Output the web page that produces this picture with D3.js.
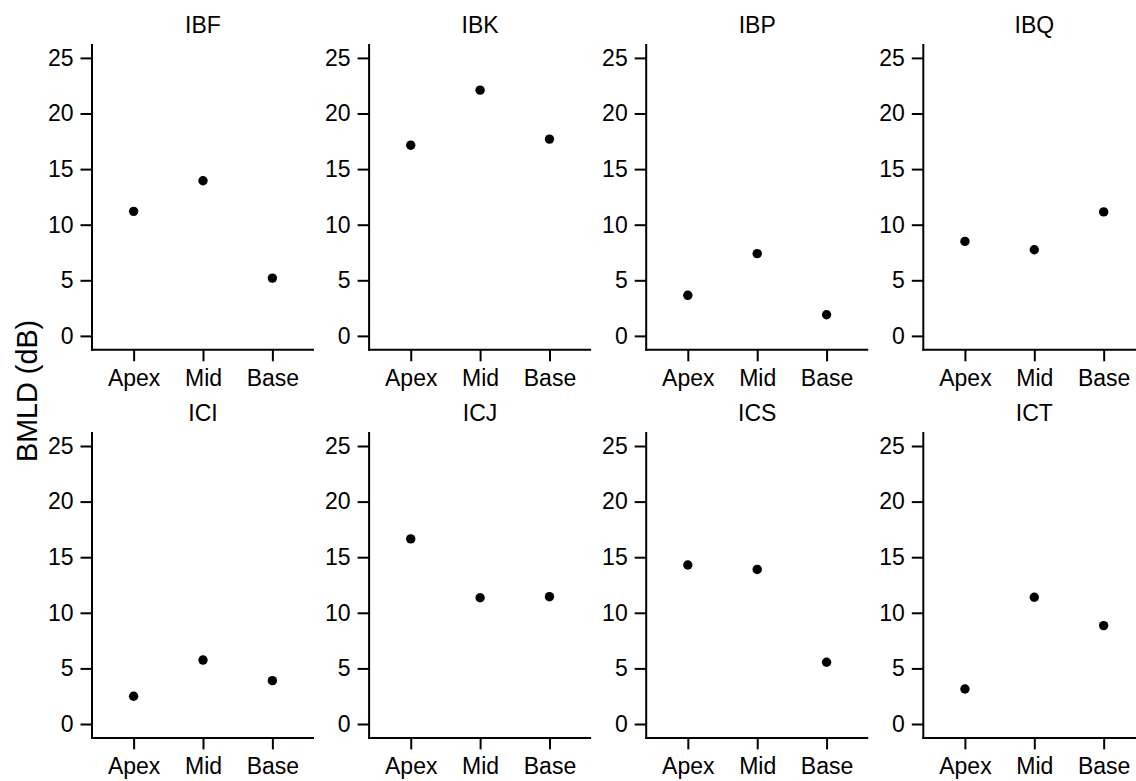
<!DOCTYPE html>
<html>
<head>
<meta charset="utf-8">
<script src="https://cdn.jsdelivr.net/npm/d3@7"></script>
<style>
  html, body { margin: 0; padding: 0; background: #fff; }
  svg { display: block; }
  text { font-family: "Liberation Sans", Arial, sans-serif; fill: #000; }
</style>
</head>
<body>
<svg id="chart" width="1136" height="781"></svg>
<script>
// ---- data ----
const subjects = ["IBF", "IBK", "IBP", "IBQ", "ICI", "ICJ", "ICS", "ICT"];
const regions = ["Apex", "Mid", "Base"];
const yTicks = [0, 5, 10, 15, 20, 25];
const bmldIBF = [11.2, 13.95, 5.2];
const bmldIBK = [17.15, 22.1, 17.7];
const bmldIBP = [3.65, 7.4, 1.9];
const bmldIBQ = [8.5, 7.75, 11.15];
const bmldICI = [2.5, 5.75, 3.9];
const bmldICJ = [16.65, 11.35, 11.45];
const bmldICS = [14.3, 13.9, 5.55];
const bmldICT = [3.15, 11.4, 8.85];
const yLabel = "BMLD (dB)";

const seriesValues = [bmldIBF, bmldIBK, bmldIBP, bmldIBQ, bmldICI, bmldICJ, bmldICS, bmldICT];

// ---- layout ----
const svg = d3.select("#chart");
const panelW = 222, panelH = 305.8;
const colLeft0 = 92, colStep = 277.1;
const rowTop0 = 44, rowStep = 388.1;
const fontSize = 23;

const y = d3.scaleLinear().domain([-1.25, 26.25]).range([panelH, 0]);
// discrete scale with ggplot-like 0.6 expansion
const xIdx = d3.scaleLinear().domain([-0.6, 2.6]).range([0, panelW]);
const x = d3.scaleOrdinal().domain(regions).range(regions.map((d, i) => xIdx(i)));

subjects.forEach((name, k) => {
  const col = k % 4, row = Math.floor(k / 4);
  const g = svg.append("g")
    .attr("transform", `translate(${colLeft0 + col * colStep},${rowTop0 + row * rowStep})`);

  // title
  g.append("text")
    .attr("x", panelW / 2)
    .attr("y", -11)
    .attr("text-anchor", "middle")
    .style("font-size", fontSize + "px")
    .text(name);

  // y axis
  const ya = g.append("g")
    .call(d3.axisLeft(y).tickValues(yTicks).tickSize(11.5).tickSizeOuter(0).tickPadding(7));
  // x axis
  const xa = g.append("g")
    .attr("transform", `translate(0,${panelH})`)
    .call(d3.axisBottom(x).tickSize(11.5).tickSizeOuter(0).tickPadding(8.5));

  [ya, xa].forEach(a => {
    a.selectAll("path.domain").attr("stroke", "#000").attr("stroke-width", 2);
    a.selectAll(".tick line").attr("stroke", "#000").attr("stroke-width", 2);
    a.selectAll(".tick text").style("font-size", fontSize + "px")
      .style("font-family", '"Liberation Sans", Arial, sans-serif').attr("fill", "#000");
  });
  // make axis lines meet at corner
  ya.select("path.domain").attr("d", `M0,0V${panelH + 1}`);
  xa.select("path.domain").attr("d", `M-1,0H${panelW}`);

  // points
  g.selectAll("circle.pt")
    .data(regions.map((r, i) => ({ r, v: seriesValues[k][i] })))
    .join("circle")
    .attr("class", "pt")
    .attr("cx", d => x(d.r))
    .attr("cy", d => y(d.v))
    .attr("r", 4.7)
    .attr("fill", "#000");
});

// y-axis title
svg.append("text")
  .attr("transform", `translate(36.5,${rowTop0 + (rowStep + panelH) / 2}) rotate(-90)`)
  .attr("text-anchor", "middle")
  .style("font-size", "28.75px")
  .text(yLabel);
</script>
</body>
</html>
